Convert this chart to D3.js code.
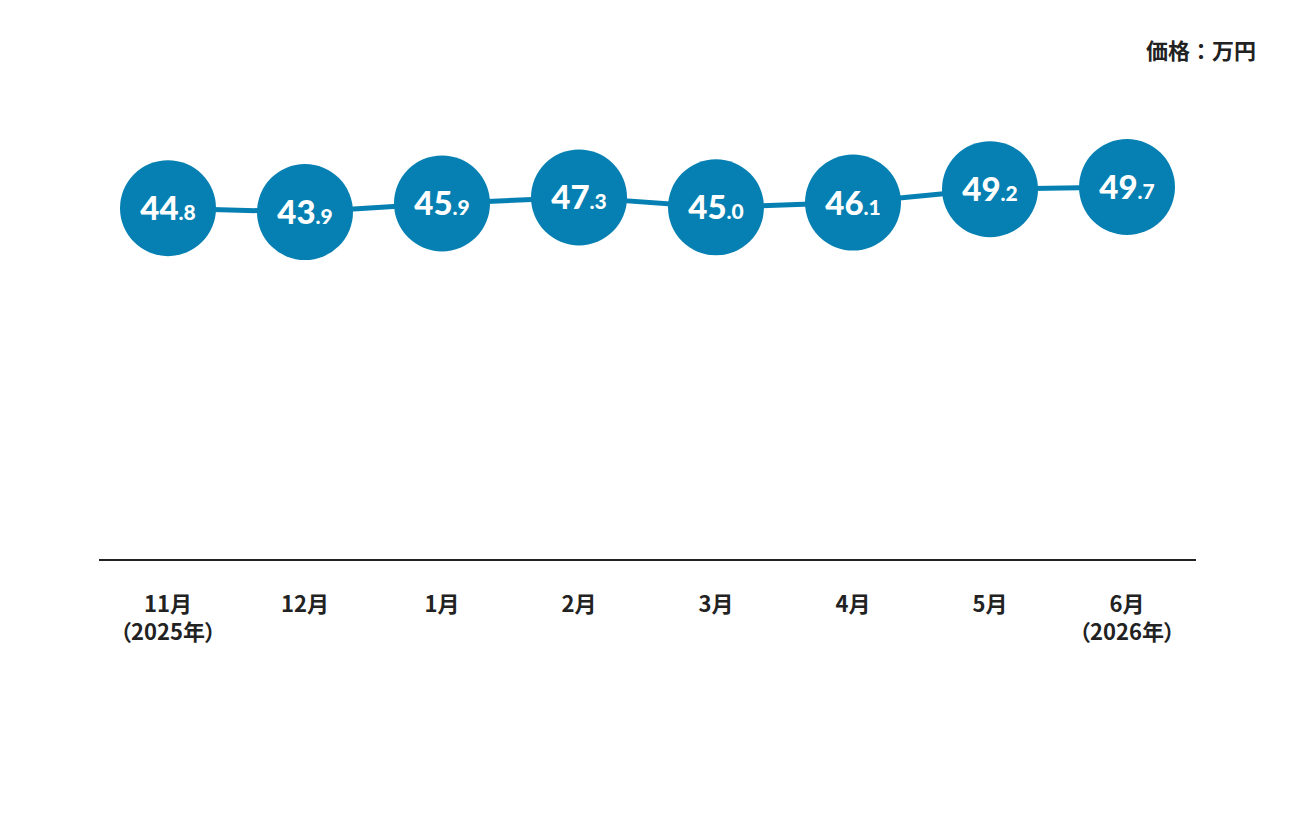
<!DOCTYPE html>
<html lang="ja">
<head>
<meta charset="utf-8">
<title>価格推移</title>
<script src="https://d3js.org/d3.v7.min.js"></script>
<style>
  body { margin: 0; background: #fff; }
  svg { display: block; }
  .cat { font-family: "Noto Sans CJK JP", "Noto Sans", sans-serif; font-weight: 700; font-size: 22px; fill: #222; font-feature-settings: "palt"; }
  .val { font-family: Lato, "Noto Sans", sans-serif; font-weight: 900; fill: #fff; }
</style>
</head>
<body>
<svg id="chart" width="1296" height="816"></svg>
<script>
var months = ["11月", "12月", "1月", "2月", "3月", "4月", "5月", "6月"];
var years = ["（2025年）", "", "", "", "", "", "", "（2026年）"];
var prices = [44.8, 43.9, 45.9, 47.3, 45.0, 46.1, 49.2, 49.7];
var unitLabel = "価格：万円";

var blue = "#0680b2";
var svg = d3.select("#chart");

var x = d3.scalePoint()
    .domain(months)
    .range([168, 1127]);

var y = d3.scaleLinear()
    .domain([30, 60])
    .range([272, 142.6]);

// unit
svg.append("text")
    .attr("class", "cat")
    .style("font-feature-settings", "normal")
    .attr("x", 1256)
    .attr("y", 59)
    .attr("text-anchor", "end")
    .text(unitLabel);

// base line
svg.append("line")
    .attr("x1", 99).attr("x2", 1196)
    .attr("y1", 560).attr("y2", 560)
    .attr("stroke", "#222")
    .attr("stroke-width", 2);

// month labels
var lab = svg.append("g").selectAll("text")
    .data(months)
    .enter()
    .append("text")
    .attr("class", "cat")
    .attr("text-anchor", "middle")
    .attr("x", d => x(d))
    .attr("y", 612);
lab.append("tspan").text(d => d);
lab.append("tspan")
    .attr("x", d => x(d))
    .attr("dy", 28)
    .text((d, i) => years[i]);

// line
var line = d3.line()
    .x((d, i) => x(months[i]))
    .y(d => y(d));

svg.append("path")
    .datum(prices)
    .attr("d", line)
    .attr("fill", "none")
    .attr("stroke", blue)
    .attr("stroke-width", 5);

// bubbles
var g = svg.append("g").selectAll("g")
    .data(prices)
    .enter()
    .append("g")
    .attr("transform", (d, i) => "translate(" + x(months[i]) + "," + y(d) + ")");

g.append("circle")
    .attr("r", 48)
    .attr("fill", blue);

var t = g.append("text")
    .attr("class", "val")
    .attr("text-anchor", "middle")
    .attr("y", 12);
t.append("tspan")
    .attr("font-size", "33px")
    .text(d => Math.floor(d));
t.append("tspan")
    .attr("font-size", "21px")
    .text(d => "." + Math.round((d * 10) % 10));
</script>
</body>
</html>
